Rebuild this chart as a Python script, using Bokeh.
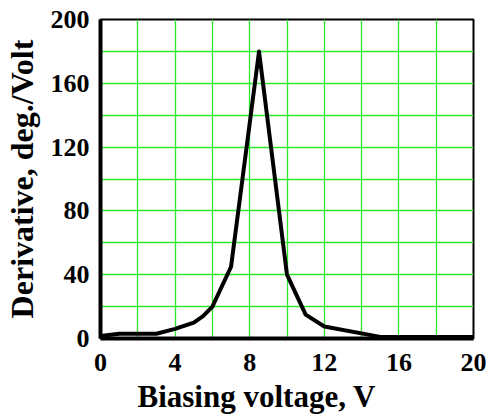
from bokeh.plotting import figure
from bokeh.models import FixedTicker, Range1d, Title
from bokeh.embed import file_html
from bokeh.resources import INLINE

# Data
voltage = [0, 1, 3, 4, 5, 5.5, 6, 7, 8.5, 10, 11, 12, 15, 20]
derivative = [1.5, 3, 3, 6, 10, 14, 20, 45, 180, 40, 15, 7.5, 1, 1]

x_tick_values = [0, 4, 8, 12, 16, 20]
x_grid_values = [0, 2, 4, 6, 8, 10, 12, 14, 16, 18, 20]
y_tick_values = [0, 40, 80, 120, 160, 200]
y_grid_values = [0, 20, 40, 60, 80, 100, 120, 140, 160, 180, 200]

x_label_text = "Biasing voltage, V"
y_label_text = "Derivative, deg./Volt"

FONT = "Liberation Serif"
GRID = "#2ee82e"

p = figure(width=493, height=418, output_backend="svg", toolbar_location=None,
           x_range=Range1d(0, 20), y_range=Range1d(0, 200),
           min_border_left=96, min_border_right=20, min_border_top=19,
           min_border_bottom=80)
p.background_fill_color = "white"
p.border_fill_color = "white"
p.outline_line_color = "black"
p.outline_line_width = 2

p.xaxis.ticker = FixedTicker(ticks=x_tick_values)
p.yaxis.ticker = FixedTicker(ticks=y_tick_values)
p.xgrid.ticker = FixedTicker(ticks=x_grid_values)
p.ygrid.ticker = FixedTicker(ticks=y_grid_values)
for g in (p.xgrid, p.ygrid):
    g.grid_line_color = GRID
    g.grid_line_width = 1.3
    g.grid_line_alpha = 1.0

for ax in (p.xaxis, p.yaxis):
    ax.axis_line_width = 4
    ax.axis_line_color = "black"
    ax.major_tick_line_color = None
    ax.minor_tick_line_color = None
    ax.major_label_text_font = FONT
    ax.major_label_text_font_style = "bold"
    ax.major_label_text_font_size = "26px"
    ax.major_label_text_color = "black"
p.xaxis.major_label_standoff = 9
p.yaxis.major_label_standoff = 5

p.yaxis.axis_label = y_label_text
p.yaxis.axis_label_text_font = FONT
p.yaxis.axis_label_text_font_style = "bold"
p.yaxis.axis_label_text_font_size = "32px"
p.yaxis.axis_label_text_color = "black"
p.yaxis.axis_label_standoff = 8

p.line(voltage, derivative, line_color="black", line_width=4, line_join="round")

xt = Title(text=x_label_text, align="left", offset=37, standoff=7,
           text_font=FONT, text_font_style="bold", text_font_size="31px",
           text_color="black")
p.add_layout(xt, "below")

open("out.html", "w").write(file_html(p, INLINE))
